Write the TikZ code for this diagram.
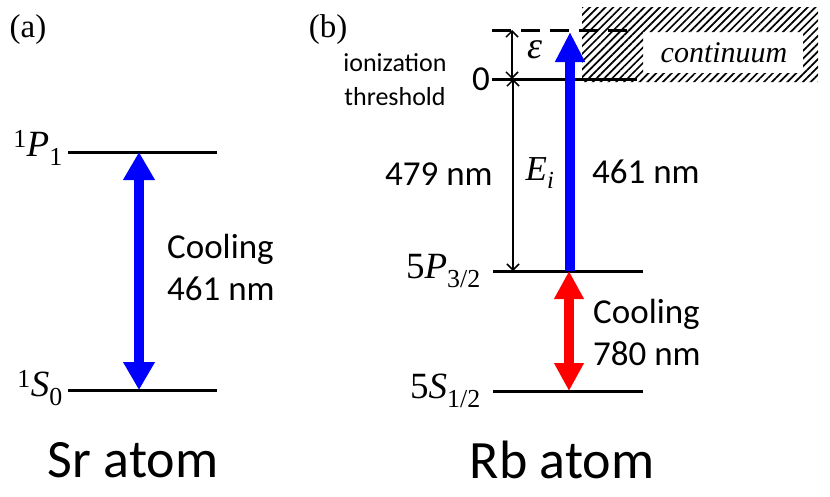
\documentclass[tikz,border=0pt]{standalone}
\usepackage{fontspec}
\setmainfont{Liberation Serif}
\newfontfamily\carl{Carlito}
\usetikzlibrary{arrows.meta,patterns.meta}
\begin{document}
\begin{tikzpicture}[x=1pt,y=-1pt,
  level/.style={line width=3pt},
  sanslbl/.style={font=\carl\fontsize{35}{42}\selectfont, inner sep=0pt},
  biglbl/.style={font=\carl\fontsize{54}{60}\selectfont, inner sep=0pt},
  smalllbl/.style={font=\carl\fontsize{26}{34}\selectfont, inner sep=0pt},
  seriflbl/.style={font=\fontsize{37}{40}\selectfont, inner sep=0pt},
  panellbl/.style={font=\fontsize{33}{38}\selectfont, inner sep=0pt},
  fatarrow/.style={line width=10pt},
  thinarrow/.style={line width=1.5pt, {Straight Barb[length=6pt,width=12pt]}-{Straight Barb[length=6pt,width=12pt]}}
]
\useasboundingbox (0,0) rectangle (830,496);

% panel labels
\node[panellbl] (pa) at (28,30) {(a)};
\node[panellbl] (pb) at (328,30) {(b)};

% ---- Sr ----
\coordinate (srPl) at (68,152);
\coordinate (srPr) at (217,152);
\coordinate (srSl) at (68,390);
\coordinate (srSr) at (217,390);
\draw[level] (srPl) -- (srPr);
\draw[level] (srSl) -- (srSr);
\coordinate (srPa) at (139,152);
\coordinate (srSa) at (139,390);
\draw[fatarrow, blue, {Triangle[width=30pt,length=28pt]}-{Triangle[width=30pt,length=28pt]}] (srSa) -- (srPa);
\node[seriflbl, anchor=east] (lP1) at (63,148) {\textsuperscript{1}\textit{P}\textsubscript{1}};
\node[seriflbl, anchor=east] (lS0) at (63,388) {\textsuperscript{1}\textit{S}\textsubscript{0}};
\node[sanslbl, anchor=west, align=left] (srcool) at (167,267) {Cooling\\461 nm};
\node[biglbl] (srname) at (133,460) {Sr atom};

% ---- Rb ----
\fill[pattern={Lines[angle=45,distance=5.5pt,line width=1.7pt]}, even odd rule]
  (582,7) rectangle (818,82) (643,32) rectangle (803,73);
\node[font=\fontsize{30}{30}\selectfont\itshape, inner sep=0pt] (cont) at (724,53) {continuum};

\coordinate (dl) at (492,30);
\coordinate (dr) at (636,30);
\coordinate (tl) at (492,79);
\coordinate (tr) at (637,79);
\coordinate (pl) at (493,271);
\coordinate (pr) at (643,271);
\coordinate (sl) at (493,391);
\coordinate (sr) at (643,391);
\draw[level, dash pattern=on 19pt off 10pt] (dl) -- (dr);
\draw[level] (tl) -- (tr);
\draw[level] (pl) -- (pr);
\draw[level] (sl) -- (sr);

\coordinate (epsT) at (512,30);
\coordinate (epsB) at (512,79);
\coordinate (eiT) at (513,79);
\coordinate (eiB) at (513,271);
\draw[thinarrow] (epsT) -- (epsB);
\draw[thinarrow] (eiT) -- (eiB);

\coordinate (ionB) at (570,271);
\coordinate (ionT) at (570,32);
\draw[fatarrow, blue, -{Triangle[width=28pt,length=30pt]}] (ionB) -- (ionT);
\coordinate (cB) at (569,391);
\coordinate (cT) at (569,271);
\draw[fatarrow, red, {Triangle[width=28pt,length=28pt]}-{Triangle[width=28pt,length=28pt]}] (cB) -- (cT);

\node[font=\fontsize{38}{38}\selectfont\itshape, inner sep=0pt] (eps) at (535,50) {ε};
\node[font=\fontsize{35}{40}\selectfont, inner sep=0pt] (ei) at (540,173) {\textit{E}\textsubscript{\textit{i}}};
\node[smalllbl, align=center] (ion) at (395,80) {ionization\\threshold};
\node[sanslbl] (zero) at (481,79) {0};
\node[sanslbl, anchor=west] (w479) at (385,174) {479 nm};
\node[sanslbl, anchor=west] (w461) at (592,172) {461 nm};
\node[sanslbl, anchor=west, align=left] (rbcool) at (593,332) {Cooling\\780 nm};
\node[seriflbl, anchor=east] (lP32) at (481,271) {5\textit{P}\textsubscript{3/2}};
\node[seriflbl, anchor=east] (lS12) at (481,391) {5\textit{S}\textsubscript{1/2}};
\node[biglbl] (rbname) at (562,460) {Rb atom};
\end{tikzpicture}
\end{document}
